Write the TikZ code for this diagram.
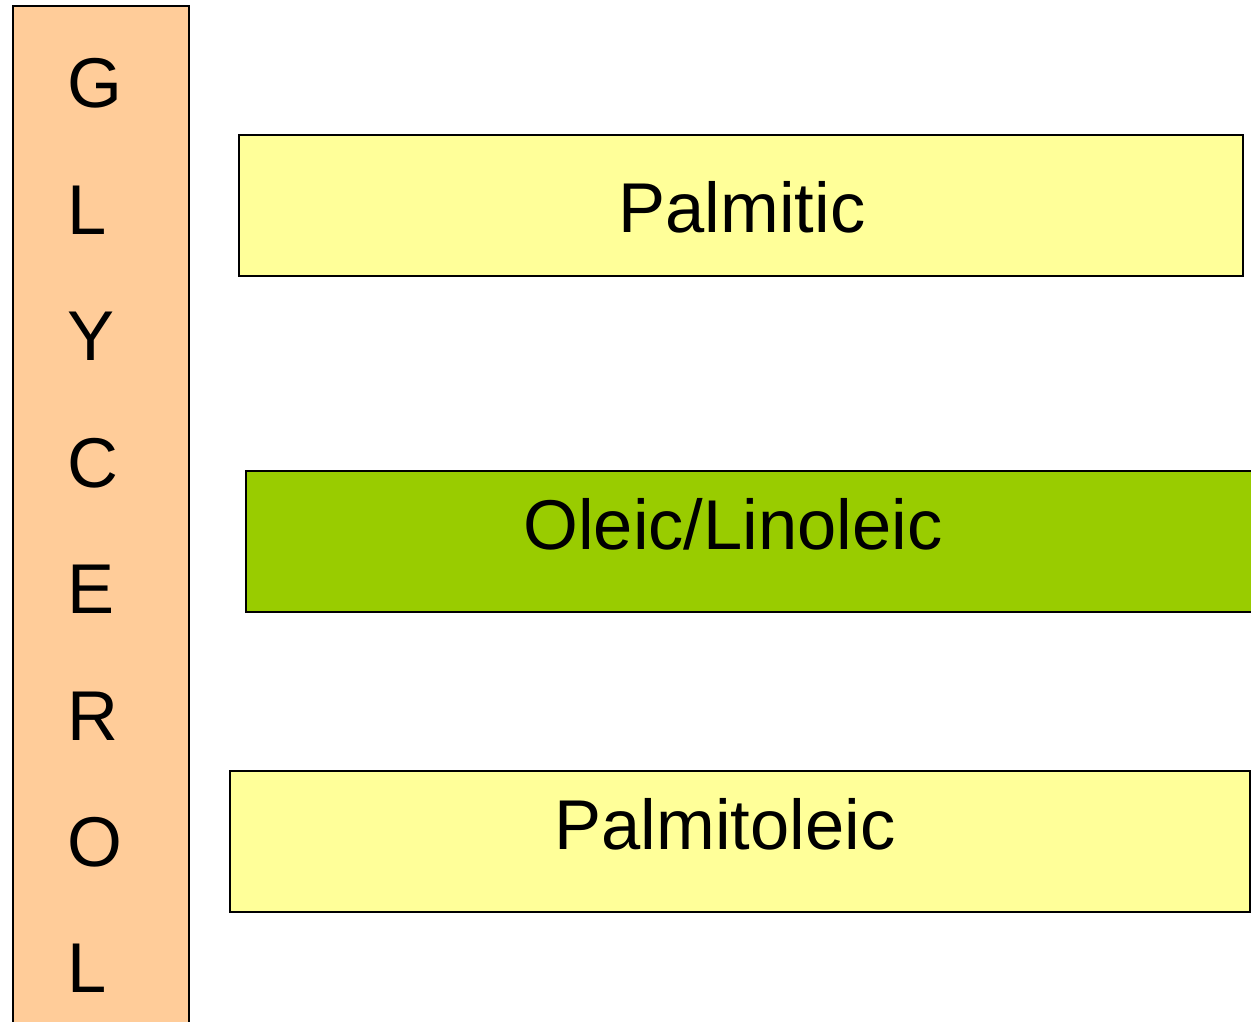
\documentclass[tikz,border=0pt]{standalone}
\usepackage{fontspec}
\setmainfont{Liberation Sans}
\begin{document}
\begin{tikzpicture}[x=1pt,y=-1pt,
  bar/.style={draw=black,line width=2pt},
  big/.style={font=\fontsize{70.5}{85}\selectfont,inner sep=0pt}]
\definecolor{peach}{RGB}{255,204,153}
\definecolor{paleyellow}{RGB}{255,255,153}
\definecolor{lime}{RGB}{153,204,0}
\useasboundingbox (0,0) rectangle (1251,1022);
\clip (0,0) rectangle (1251,1022);
\fill[white] (0,0) rectangle (1251,1022);
\draw[bar,fill=peach] (13,6) rectangle (189,1040);
\foreach \l [count=\i from 0] in {G,L,Y,C,E,R,O,L}
  \node[big,anchor=base west] (g\i) at (67,{108+126.4*\i}) {\l};
\draw[bar,fill=paleyellow] (239,135) rectangle (1243,276);
\node[big,anchor=base] (palmitic) at (742,233) {Palmitic};
\draw[bar,fill=lime] (246,471) rectangle (1270,612);
\node[big,anchor=base] (oleic) at (733,549) {Oleic/Linoleic};
\draw[bar,fill=paleyellow] (230,771) rectangle (1250,912);
\node[big,anchor=base] (palmitoleic) at (725,849) {Palmitoleic};
\end{tikzpicture}
\end{document}
